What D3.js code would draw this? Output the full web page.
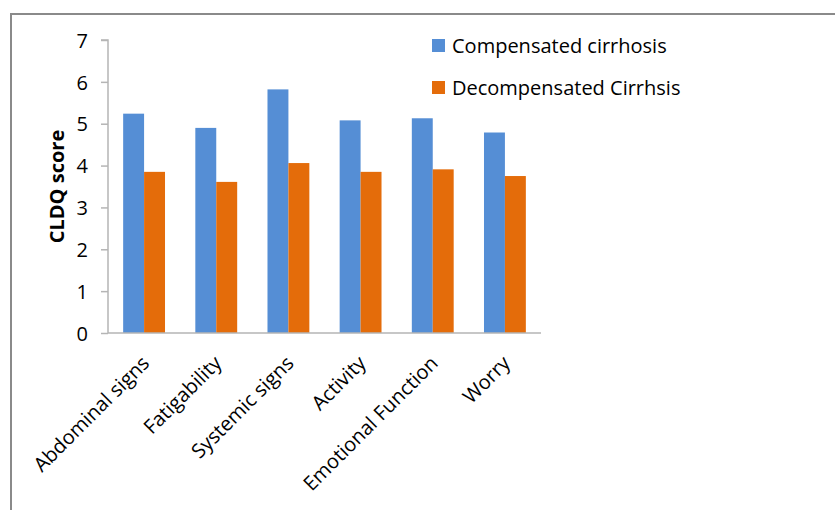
<!DOCTYPE html>
<html>
<head>
<meta charset="utf-8">
<script src="https://cdn.jsdelivr.net/npm/d3@7"></script>
<style>
  html, body { margin: 0; padding: 0; background: #ffffff; }
  svg { display: block; }
  text { font-family: "Open Sans", "Noto Sans", sans-serif; fill: #000; }
</style>
</head>
<body>
<svg id="chart" width="835" height="510"></svg>
<script>
const categories = ["Abdominal signs", "Fatigability", "Systemic signs", "Activity", "Emotional Function", "Worry"];
const seriesNames = ["Compensated cirrhosis", "Decompensated Cirrhsis"];
const compensated = [5.24, 4.90, 5.82, 5.08, 5.13, 4.79];
const decompensated = [3.85, 3.61, 4.06, 3.85, 3.91, 3.75];
const yTicks = [0, 1, 2, 3, 4, 5, 6, 7];
const colors = ["#558ED5", "#E46C0A"];
const yTitle = "CLDQ score";

const svg = d3.select("#chart");

// outer frame
svg.append("rect")
  .attr("x", 11).attr("y", 14)
  .attr("width", 900).attr("height", 600)
  .attr("fill", "none").attr("stroke", "#8a8a8a").attr("stroke-width", 2);

const plot = { left: 108, right: 541, top: 40, bottom: 333 };

const x = d3.scaleBand().domain(categories)
  .range([plot.left, plot.right]).paddingInner(0.42).paddingOuter(0.21);
const x1 = d3.scaleBand().domain(seriesNames).range([0, x.bandwidth()]);
const y = d3.scaleLinear().domain([0, 7]).range([plot.bottom, plot.top]);

const rows = categories.map((c, i) => ({ cat: c, vals: [compensated[i], decompensated[i]] }));

// bars
const g = svg.append("g");
g.selectAll("g.grp").data(rows).join("g")
  .attr("class", "grp")
  .attr("transform", d => `translate(${x(d.cat)},0)`)
  .selectAll("rect").data(d => d.vals.map((v, k) => ({ v, k })))
  .join("rect")
  .attr("x", d => x1(seriesNames[d.k]))
  .attr("width", x1.bandwidth())
  .attr("y", d => y(d.v))
  .attr("height", d => y(0) - y(d.v))
  .attr("fill", d => colors[d.k]);

// y axis
const yAxis = d3.axisLeft(y).tickValues(yTicks).tickSize(7).tickFormat(d3.format("d"));
const ya = svg.append("g").attr("transform", `translate(${plot.left},0)`).call(yAxis);
ya.select(".domain").attr("stroke", "#b5b5b5").attr("stroke-width", 1.5)
  .attr("d", `M-7,${y(7)}H0V${y(0)}`);
ya.selectAll(".tick line").attr("stroke", "#b5b5b5").attr("stroke-width", 1.5);
ya.selectAll(".tick text").attr("x", -20).attr("dy", "0.36em")
  .style("font-size", "20px").style("font-family", "Open Sans, sans-serif").attr("fill", "#000");

// x axis
const xAxis = d3.axisBottom(x).tickSize(0).tickFormat("");
const xa = svg.append("g").attr("transform", `translate(0,${plot.bottom})`).call(xAxis);
xa.select(".domain").attr("stroke", "#b5b5b5").attr("stroke-width", 1.5)
  .attr("d", `M${plot.left},0H${plot.right}`);

// x labels rotated
svg.append("g").selectAll("text").data(categories).join("text")
  .attr("transform", d => `translate(${x(d) + x.bandwidth() / 2 - 2},${plot.bottom + 23}) rotate(-45)`)
  .attr("text-anchor", "end")
  .attr("dy", "0.6em")
  .style("font-size", "20px")
  .text(d => d);

// y title
svg.append("text")
  .attr("transform", `translate(64,${(plot.top + plot.bottom) / 2}) rotate(-90)`)
  .attr("text-anchor", "middle")
  .style("font-size", "20px").style("font-weight", "bold")
  .text(yTitle);

// legend
const leg = svg.append("g").selectAll("g").data(seriesNames).join("g")
  .attr("transform", (d, i) => `translate(432,${45.5 + i * 42})`);
leg.append("rect").attr("x", 0).attr("y", -6.5).attr("width", 13).attr("height", 13)
  .attr("fill", (d, i) => colors[i]);
leg.append("text").attr("x", 20).attr("dy", "0.36em")
  .style("font-size", "20px").text(d => d);
</script>
</body>
</html>
